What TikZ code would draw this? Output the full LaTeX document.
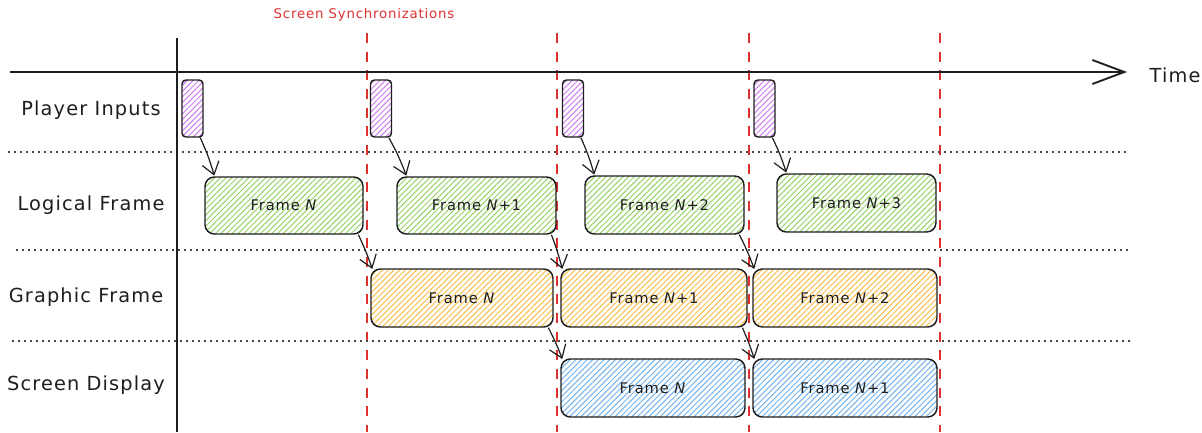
\documentclass[tikz,border=0pt]{standalone}
\usepackage{fontspec}
\setmainfont{DejaVu Sans}
\newfontfamily\hand[LetterSpace=6]{DejaVu Sans}
\usetikzlibrary{arrows.meta,patterns.meta}
\definecolor{ink}{RGB}{30,30,30}
\definecolor{syncred}{RGB}{224,49,49}
\definecolor{hpurple}{RGB}{205,125,238}
\definecolor{hgreen}{RGB}{150,210,105}
\definecolor{horange}{RGB}{250,190,75}
\definecolor{hblue}{RGB}{115,178,236}
\tikzset{
  sz/.style 2 args={minimum width=#1*0.75pt, minimum height=#2*0.75pt, inner sep=0pt},
  hbox/.style={draw=ink, line width=1.1pt, rounded corners=7pt,
    pattern={Lines[angle=45,distance=3pt,line width=0.75pt]}, pattern color=#1,
    font=\hand\fontsize{11pt}{12pt}\selectfont, text=ink},
  ibox/.style={hbox=hpurple, rounded corners=3pt},
  lab/.style={font=\hand\fontsize{14.5pt}{16pt}\selectfont, text=ink},
  sync/.style={syncred, line width=1.1pt, dash pattern=on 7.5pt off 6.5pt},
  sep/.style={ink!80, line width=1.1pt, dash pattern=on 1.2pt off 3.3pt},
  flow/.style={ink, line width=0.9pt, -{Straight Barb[length=9pt,width=13pt,line width=0.9pt]}},
}
\begin{document}
\begin{tikzpicture}[x=0.75pt,y=-0.75pt]
\useasboundingbox (0,0) rectangle (1202,432);
% sync lines
\foreach \xx/\nm in {367/s1,557/s2,749/s3,940/s4}{
  \coordinate (\nm t) at (\xx,33);
  \coordinate (\nm b) at (\xx,432);
  \draw[sync] (\nm t) -- (\nm b);
}
\node[text=syncred, font=\hand\fontsize{10pt}{11pt}\selectfont] (synclab) at (364,15) {Screen Synchronizations};
% separators
\coordinate (d1a) at (8,152);  \coordinate (d1b) at (1127,152);
\coordinate (d2a) at (16,250); \coordinate (d2b) at (1130,250);
\coordinate (d3a) at (12,341); \coordinate (d3b) at (1130,341);
\draw[sep] (d1a) -- (d1b);
\draw[sep] (d2a) -- (d2b);
\draw[sep] (d3a) -- (d3b);
% axes
\coordinate (vt) at (177,38); \coordinate (vb) at (177,432);
\draw[ink, line width=1.4pt] (vt) -- (vb);
\coordinate (ta) at (10,72); \coordinate (tb) at (1127,72);
\draw[ink, line width=1.4pt, -{Straight Barb[length=24pt,width=18pt,line width=1.4pt]}] (ta) -- (tb);
\node[lab, anchor=west] (time) at (1145,75) {Time};
% row labels
\node[lab] (rl1) at (91,110) {Player Inputs};
\node[lab] (rl2) at (91,205) {Logical Frame};
\node[lab] (rl3) at (86,297) {Graphic Frame};
\node[lab] (rl4) at (86,385) {Screen Display};
% player inputs
\node[ibox, sz={21}{57}] (i1) at (192.5,108.5) {};
\node[ibox, sz={21}{57}] (i2) at (381,108.5) {};
\node[ibox, sz={21}{57}] (i3) at (573,108.5) {};
\node[ibox, sz={21}{57}] (i4) at (764.5,108.5) {};
% logical frames
\node[hbox=hgreen, sz={158}{57}] (l1) at (284,205.5) {Frame \textit{N}};
\node[hbox=hgreen, sz={159}{57}] (l2) at (476.5,205.5) {Frame \textit{N}+1};
\node[hbox=hgreen, sz={159}{58}] (l3) at (664.5,205) {Frame \textit{N}+2};
\node[hbox=hgreen, sz={159}{58}] (l4) at (856.5,203) {Frame \textit{N}+3};
% graphic frames
\node[hbox=horange, sz={182}{58}] (g1) at (462,298) {Frame \textit{N}};
\node[hbox=horange, sz={186}{58}] (g2) at (654,298) {Frame \textit{N}+1};
\node[hbox=horange, sz={184}{58}] (g3) at (845,298) {Frame \textit{N}+2};
% screen display
\node[hbox=hblue, sz={184}{58}] (sc1) at (653,388) {Frame \textit{N}};
\node[hbox=hblue, sz={184}{58}] (sc2) at (845,388) {Frame \textit{N}+1};
% arrows
\foreach \a/\b in {i1/l1,i2/l2,i3/l3,i4/l4}{
  \draw[flow] ([xshift=-2.5pt]\a.south east) to[bend left=4] ([xshift=7.5pt,yshift=0.5pt]\b.north west);
}
\foreach \a/\b in {l1/g1,l2/g2,l3/g3,g1/sc1,g2/sc2}{
  \draw[flow] ([xshift=-4pt]\a.south east) to[bend left=3] ([xshift=1.5pt,yshift=-0.5pt]\b.north west);
}
\end{tikzpicture}
\end{document}
